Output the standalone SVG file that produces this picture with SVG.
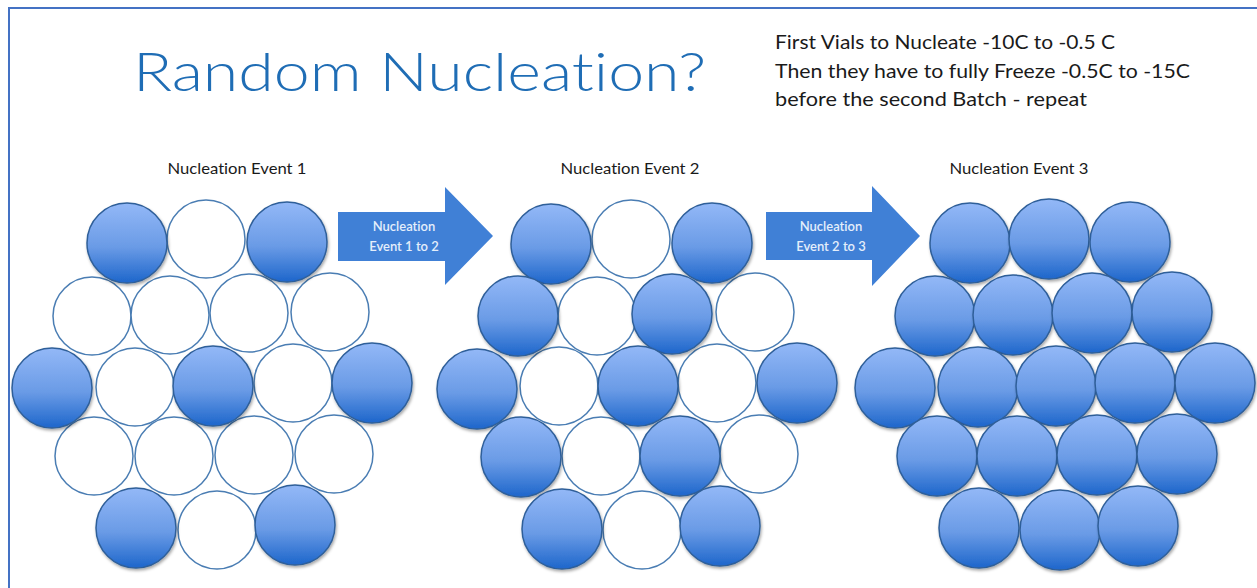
<svg xmlns="http://www.w3.org/2000/svg" width="1257" height="588" viewBox="0 0 1257 588">
  <defs>
    <linearGradient id="vialFill" x1="0" y1="0" x2="0" y2="1">
      <stop offset="0" stop-color="#93b8f7"/>
      <stop offset="0.55" stop-color="#6a9be6"/>
      <stop offset="1" stop-color="#1d66cb"/>
    </linearGradient>
    <filter id="vialShadow" x="-20%" y="-20%" width="140%" height="150%">
      <feDropShadow dx="1" dy="2" stdDeviation="1.6" flood-color="#000" flood-opacity="0.35"/>
    </filter>
    <style>
      text { font-variant-ligatures: none; font-feature-settings: "liga" 0, "clig" 0; }
      .frame { fill: none; stroke: #4472c4; stroke-width: 2; }
      .title { font-family: Lato, "Liberation Sans", sans-serif; font-size: 54px; font-weight: 300; fill: #1f6db5; }
      .note { font-family: Lato, "Liberation Sans", sans-serif; font-size: 20px; fill: #1a1a1a; }
      .caption { font-family: Lato, "Liberation Sans", sans-serif; font-size: 15px; fill: #1a1a1a; text-anchor: middle; }
      .arrow { fill: #4080d6; }
      .arrowText { font-family: Lato, "Liberation Sans", sans-serif; font-size: 13px; font-weight: 600; fill: #e4eefb; text-anchor: middle; }
      .empty { fill: #ffffff; stroke: #4a7db3; stroke-width: 1.5; }
      .frozen { fill: url(#vialFill); stroke: #2f5f99; stroke-width: 1.5; filter: url(#vialShadow); }
    </style>
  </defs>

  <rect class="frame" x="9" y="8" width="1300" height="700"/>

  <text class="title" x="133" y="91" textLength="573" lengthAdjust="spacingAndGlyphs">Random Nucleation?</text>

  <g id="notes">
    <text class="note" x="775" y="49" textLength="340" lengthAdjust="spacingAndGlyphs">First Vials to Nucleate -10C to -0.5 C</text>
    <text class="note" x="775" y="78" textLength="415" lengthAdjust="spacingAndGlyphs">Then they have to fully Freeze -0.5C to -15C</text>
    <text class="note" x="775" y="106" textLength="312" lengthAdjust="spacingAndGlyphs">before the second Batch - repeat</text>
  </g>

  <!-- Event 1: six frozen vials -->
  <g id="event1">
    <text class="caption" x="237" y="174" textLength="139" lengthAdjust="spacingAndGlyphs">Nucleation Event 1</text>
    <circle class="empty" cx="206" cy="239" r="39"/>
    <circle class="empty" cx="92" cy="316" r="39"/>
    <circle class="empty" cx="170" cy="315" r="39"/>
    <circle class="empty" cx="249" cy="313" r="39"/>
    <circle class="empty" cx="330" cy="312" r="39"/>
    <circle class="empty" cx="135" cy="387" r="39"/>
    <circle class="empty" cx="293" cy="383" r="39"/>
    <circle class="empty" cx="94" cy="456" r="39"/>
    <circle class="empty" cx="174" cy="456" r="39"/>
    <circle class="empty" cx="254" cy="455" r="39"/>
    <circle class="empty" cx="334" cy="454" r="39"/>
    <circle class="empty" cx="217" cy="530" r="39"/>
    <circle class="frozen" cx="127" cy="243" r="40"/>
    <circle class="frozen" cx="287" cy="242" r="40"/>
    <circle class="frozen" cx="52" cy="388" r="40"/>
    <circle class="frozen" cx="213" cy="386" r="40"/>
    <circle class="frozen" cx="372" cy="383" r="40"/>
    <circle class="frozen" cx="136" cy="528" r="40"/>
    <circle class="frozen" cx="295" cy="525" r="40"/>
  </g>

  <!-- Event 2: twelve frozen vials -->
  <g id="event2">
    <text class="caption" x="630" y="174" textLength="139" lengthAdjust="spacingAndGlyphs">Nucleation Event 2</text>
    <circle class="empty" cx="631" cy="239" r="39"/>
    <circle class="empty" cx="597" cy="316" r="39"/>
    <circle class="empty" cx="755" cy="312" r="39"/>
    <circle class="empty" cx="559" cy="386" r="39"/>
    <circle class="empty" cx="717" cy="383" r="39"/>
    <circle class="empty" cx="601" cy="456" r="39"/>
    <circle class="empty" cx="759" cy="454" r="39"/>
    <circle class="empty" cx="642" cy="530" r="39"/>
    <circle class="frozen" cx="551" cy="244" r="40"/>
    <circle class="frozen" cx="712" cy="243" r="40"/>
    <circle class="frozen" cx="518" cy="316" r="40"/>
    <circle class="frozen" cx="672" cy="314" r="40"/>
    <circle class="frozen" cx="477" cy="389" r="40"/>
    <circle class="frozen" cx="638" cy="386" r="40"/>
    <circle class="frozen" cx="797" cy="383" r="40"/>
    <circle class="frozen" cx="521" cy="457" r="40"/>
    <circle class="frozen" cx="680" cy="456" r="40"/>
    <circle class="frozen" cx="562" cy="529" r="40"/>
    <circle class="frozen" cx="720" cy="526" r="40"/>
  </g>

  <!-- Event 3: all vials frozen -->
  <g id="event3">
    <text class="caption" x="1019" y="174" textLength="139" lengthAdjust="spacingAndGlyphs">Nucleation Event 3</text>
    <circle class="frozen" cx="970" cy="243" r="40"/>
    <circle class="frozen" cx="1049" cy="239" r="40"/>
    <circle class="frozen" cx="1130" cy="242" r="40"/>
    <circle class="frozen" cx="935" cy="316" r="40"/>
    <circle class="frozen" cx="1013" cy="315" r="40"/>
    <circle class="frozen" cx="1092" cy="313" r="40"/>
    <circle class="frozen" cx="1172" cy="312" r="40"/>
    <circle class="frozen" cx="895" cy="388" r="40"/>
    <circle class="frozen" cx="978" cy="387" r="40"/>
    <circle class="frozen" cx="1056" cy="386" r="40"/>
    <circle class="frozen" cx="1135" cy="383" r="40"/>
    <circle class="frozen" cx="1215" cy="383" r="40"/>
    <circle class="frozen" cx="937" cy="456" r="40"/>
    <circle class="frozen" cx="1017" cy="456" r="40"/>
    <circle class="frozen" cx="1097" cy="455" r="40"/>
    <circle class="frozen" cx="1177" cy="454" r="40"/>
    <circle class="frozen" cx="979" cy="528" r="40"/>
    <circle class="frozen" cx="1060" cy="530" r="40"/>
    <circle class="frozen" cx="1138" cy="526" r="40"/>
  </g>

  <!-- Block arrows between events -->
  <g id="connectors">
    <g id="arrow1">
      <polygon class="arrow" points="338,212 445,212 445,187 493,236 445,285 445,261 338,261"/>
      <text class="arrowText" x="404" y="231">Nucleation</text>
      <text class="arrowText" x="404" y="251">Event 1 to 2</text>
    </g>
    <g id="arrow2">
      <polygon class="arrow" points="766,212 872,212 872,186 920,236 872,286 872,260 766,260"/>
      <text class="arrowText" x="831" y="231">Nucleation</text>
      <text class="arrowText" x="831" y="251">Event 2 to 3</text>
    </g>
  </g>
</svg>
